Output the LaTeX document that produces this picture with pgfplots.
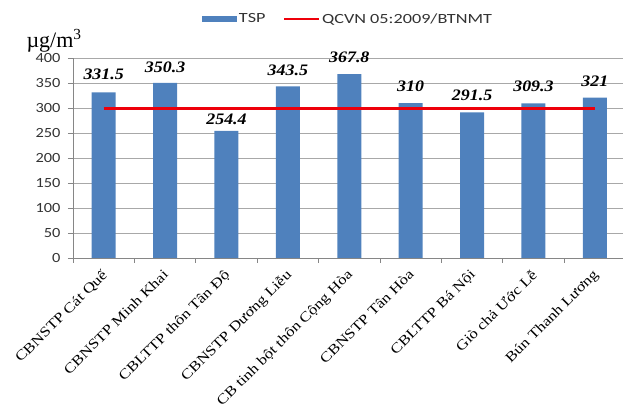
\documentclass[border=0pt]{standalone}
\usepackage{pgfplots}
\pgfplotsset{compat=1.18}
\usepackage{pgfplotstable}
\usepackage{fontspec}
\setmainfont{Liberation Serif}
\newfontfamily\tickfont[FakeStretch=1.17]{Carlito}
\newfontfamily\legfont[FakeStretch=1.3]{Carlito}
\newfontfamily\catfont[FakeStretch=1.2]{Liberation Serif}
\newfontfamily\valfont[FakeStretch=1.12]{Liberation Serif}
\definecolor{barblue}{HTML}{4F81BD}
\definecolor{limitred}{RGB}{238,0,10}
\definecolor{gridgray}{RGB}{168,168,168}
\definecolor{axisgray}{RGB}{134,134,134}

% TSP concentration per site; lab = printed value, dy = label lift above bar
\pgfplotstableread{
x y lab dy
0 331.5 331.5 18
1 350.3 350.3 16
2 254.4 254.4 11
3 343.5 343.5 16
4 367.8 367.8 17
5 310 310 17
6 291.5 291.5 17
7 309.3 309.3 17
8 321 321 16
}\tsp

\begin{document}
\begin{tikzpicture}
\useasboundingbox (0,0) rectangle (623bp,413bp);
\begin{axis}[
  at={(73bp,155bp)}, anchor=south west,
  scale only axis, width=550bp, height=200bp,
  xmin=-0.5, xmax=8.458, ymin=0, ymax=400,
  ytick distance=50,
  axis x line*=bottom, axis y line*=left,
  axis line style={axisgray, line width=0.8bp},
  ymajorgrids, major grid style={gridgray, line width=0.7bp},
  tick align=outside, major tick length=5bp,
  tick style={axisgray, line width=0.8bp},
  xtick={-0.5,0.5,...,7.5}, xticklabels={},
  extra x ticks={0,1,2,3,4,5,6,7,8},
  extra x tick labels={CBNSTP Cát Quế, CBNSTP Minh Khai, CBLTTP thôn Tân Độ,
    CBNSTP Dương Liễu, CB tinh bột thôn Cộng Hòa, CBNSTP Tân Hòa,
    CBLTTP Bá Nội, Giò chả Ước Lễ, Bún Thanh Lương},
  extra x tick style={major tick length=0pt,
    ticklabel style={font=\catfont\fontsize{14bp}{16bp}\selectfont,
      xshift=-3bp, yshift=-9bp, rotate=45, anchor=north east, inner sep=1bp}},
  /pgf/number format/assume math mode=true,
  yticklabel style={font=\tickfont\fontsize{14bp}{16bp}\selectfont,
    text=black!80, xshift=-4bp},
  ylabel={µg/m\textsuperscript{3}},
  ylabel style={rotate=-90, at={(rel axis cs:0,1)}, anchor=base west,
    xshift=-50bp, yshift=11bp, font=\fontsize{22bp}{24bp}\selectfont},
  legend style={at={(0.5,1)}, anchor=center, yshift=39bp, draw=none,
    font=\legfont\fontsize{14bp}{16bp}\selectfont, text=black!80,
    legend columns=2, inner sep=0pt,
    /tikz/every even column/.style={column sep=16bp}},
  clip=false,
]
\addplot[ybar, bar width=24bp, fill=barblue, draw=none,
  legend image code/.code={\fill[barblue] (0bp,-3bp) rectangle (35bp,3bp);},
  nodes near coords, point meta=explicit symbolic,
  visualization depends on={\thisrow{dy} \as \labdy},
  every node near coord/.style={anchor=center, yshift=\labdy bp,
    font=\valfont\bfseries\itshape\fontsize{16bp}{18bp}\selectfont, text=black}]
  table[x=x, y=y, meta=lab] {\tsp};
\addlegendentry{TSP}
\addplot[limitred, line width=3bp,
  legend image code/.code={\draw[limitred, line width=1.6bp] (0bp,0bp) -- (35bp,0bp);}]
  coordinates {(0,300) (8,300)};
\addlegendentry{QCVN 05:2009/BTNMT}
\end{axis}
\end{tikzpicture}
\end{document}
